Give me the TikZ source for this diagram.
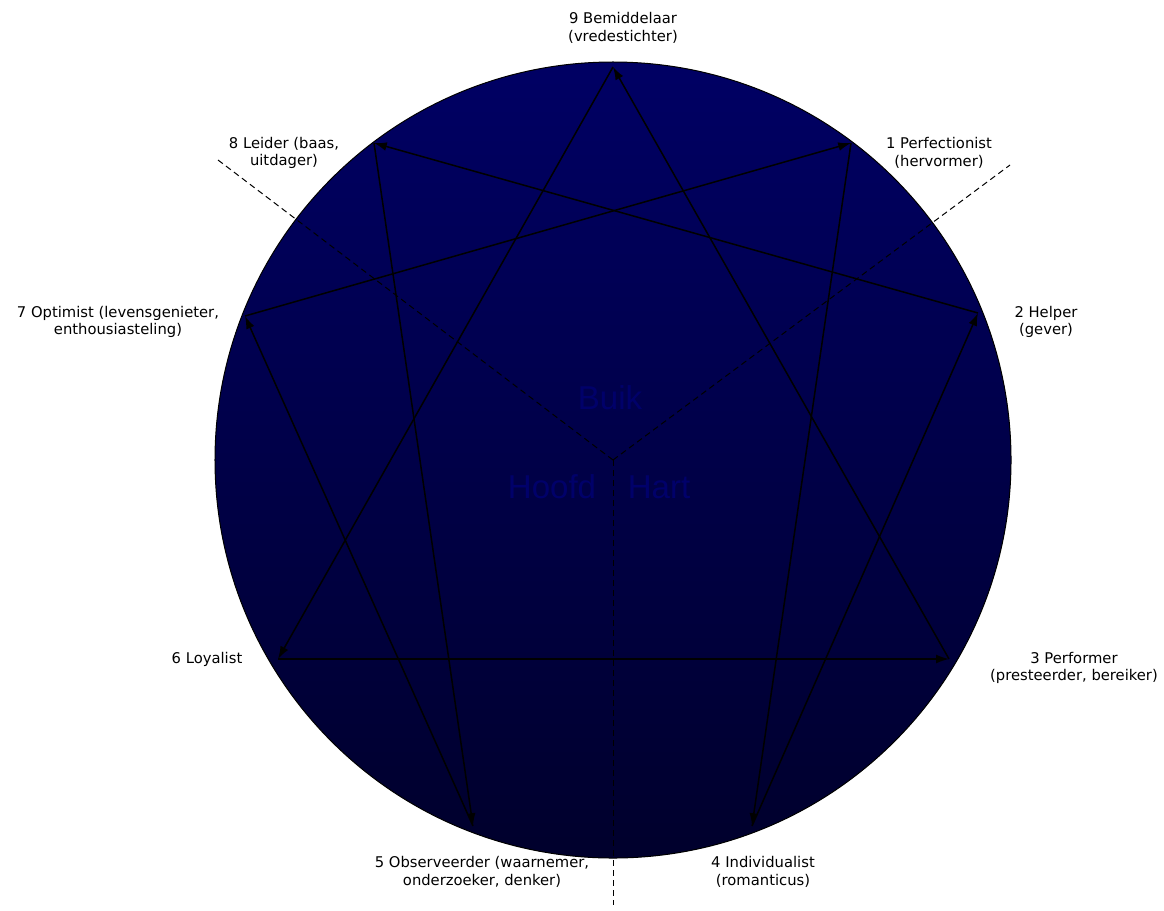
\documentclass[tikz,border=0pt]{standalone}
\usepackage{fontspec}
\setmainfont{DejaVu Sans}
\newfontfamily\centrefont{Liberation Sans}
\usetikzlibrary{arrows.meta,positioning,calc}
\tikzset{>={Latex[length=3.2mm,width=2.2mm]}}
\definecolor{enneatop}{RGB}{0,0,100}
\definecolor{enneamid}{RGB}{0,0,96}
\definecolor{enneabottom}{RGB}{0,0,44}
\definecolor{faintblue}{RGB}{0,0,106}

\begin{document}
\begin{tikzpicture}[x=0.25mm, y=-0.25mm, font=\fontsize{10.5}{12.4}\selectfont]

	\useasboundingbox (0,0) rectangle (1164,910);

	% disc
	\shade[top color=enneatop, middle color=enneamid, bottom color=enneabottom, draw=black, line width=0.25mm] (613,460) circle (99.5mm);

	\coordinate (centre) at (613,460);
	\coordinate (split-left) at (218,160);
	\coordinate (split-right) at (1010,165);
	\coordinate (split-down) at (613,905);

	\draw[dashed, dash pattern=on 1.5mm off 1mm, line width=0.25mm] (centre) to (split-left);
	\draw[dashed, dash pattern=on 1.5mm off 1mm, line width=0.25mm] (centre) to (split-right);
	\draw[dashed, dash pattern=on 1.5mm off 1mm, line width=0.25mm] (centre) to (split-down);

	\node (buik) [text=faintblue, font=\centrefont\fontsize{23.5}{28}\selectfont] at (610,398) {Buik};
	\node (hoofd) [text=faintblue, font=\centrefont\fontsize{23.5}{28}\selectfont] at (552,487) {Hoofd};
	\node (hart) [text=faintblue, font=\centrefont\fontsize{23.5}{28}\selectfont] at (659,487) {Hart};

	% points
	\coordinate (type9) at (613,67);
	\coordinate (type1) at (851,143);
	\coordinate (type2) at (978,313);
	\coordinate (type3) at (949,659);
	\coordinate (type4) at (752,826);
	\coordinate (type5) at (473,826);
	\coordinate (type6) at (278,659);
	\coordinate (type7) at (245,316);
	\coordinate (type8) at (374,143);

	\draw[->, line width=0.38mm] (type1) to (type4);
	\draw[->, line width=0.38mm] (type4) to (type2);
	\draw[->, line width=0.38mm] (type2) to (type8);
	\draw[->, line width=0.38mm] (type8) to (type5);
	\draw[->, line width=0.38mm] (type5) to (type7);
	\draw[->, line width=0.38mm] (type7) to (type1);
	\draw[->, line width=0.38mm] (type9) to (type6);
	\draw[->, line width=0.38mm] (type6) to (type3);
	\draw[->, line width=0.38mm] (type3) to (type9);

	% labels
	\node (type9-label) [align=center] at (623,28) {9 Bemiddelaar\\(vredestichter)};
	\node (type1-label) [align=center] at (939,153) {1 Perfectionist\\(hervormer)};
	\node (type2-label) [align=center] at (1046,322) {2 Helper\\(gever)};
	\node (type3-label) [align=center] at (1074,668) {3 Performer\\(presteerder, bereiker)};
	\node (type4-label) [align=center] at (763,872) {4 Individualist\\(romanticus)};
	\node (type5-label) [align=center] at (482,872) {5 Observeerder (waarnemer,\\onderzoeker, denker)};
	\node (type6-label) [align=center] at (207,659) {6 Loyalist};
	\node (type7-label) [align=center] at (118,322) {7 Optimist (levensgenieter,\\enthousiasteling)};
	\node (type8-label) [align=center] at (284,153) {8 Leider (baas,\\uitdager)};

\end{tikzpicture}
\end{document}
